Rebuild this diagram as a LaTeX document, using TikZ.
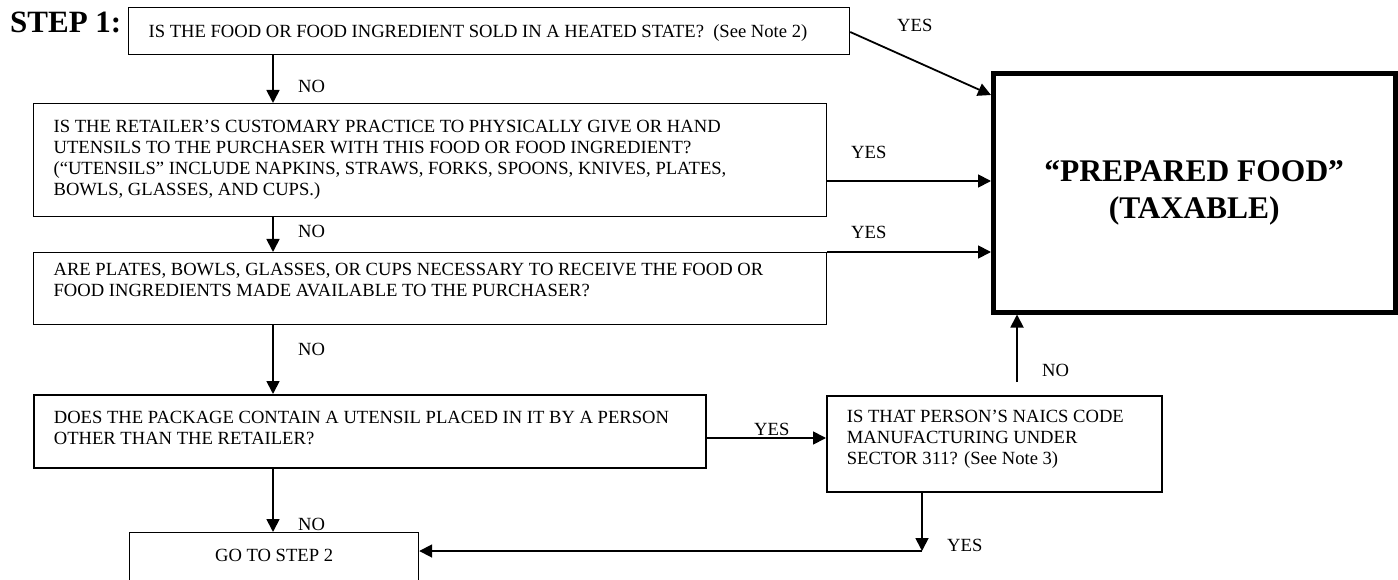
\documentclass[tikz,border=0pt]{standalone}
\usepackage{fontspec}
\setmainfont{Liberation Serif}
\usetikzlibrary{arrows.meta}
\newcommand\boxlines[2]{\parbox[t]{#1}{#2\hrule height 0pt depth 0pt width #1}}
\begin{document}
\begin{tikzpicture}[x=1pt,y=-1pt,
  qfont/.style={font=\fontsize{18.6}{21}\selectfont},
  qbox/.style={draw, line width=1.2pt, inner xsep=20pt, inner ysep=0pt, anchor=north west, qfont},
  qboxthick/.style={qbox, line width=1.7pt},
  lbl/.style={anchor=base west, inner sep=0pt, qfont},
  arr/.style={line width=1.8pt, -{Triangle[length=13pt,width=13pt]}},
  bigbox/.style={draw, line width=5pt, inner sep=0pt, align=center,
    font=\fontsize{31.5}{37}\selectfont\bfseries},
]
\useasboundingbox (0,0) rectangle (1398,580);
\clip (0,0) rectangle (1398,580);

\node[anchor=base west, inner sep=0pt, font=\fontsize{31}{37}\selectfont\bfseries] (step) at (10,33) {STEP 1:};

\node[qbox, text height=30pt, text depth=17pt] (box1) at (128,7)
  {\boxlines{681pt}{\hbox{IS THE FOOD OR FOOD INGREDIENT SOLD IN A HEATED STATE?\ \ (See Note 2)}}};

\node[qbox, text height=29pt, text depth=84pt] (box2) at (33,103)
  {\boxlines{753pt}{%
    \hbox{IS THE RETAILER’S CUSTOMARY PRACTICE TO PHYSICALLY GIVE OR HAND}%
    \hbox{UTENSILS TO THE PURCHASER WITH THIS FOOD OR FOOD INGREDIENT?}%
    \hbox{(“UTENSILS” INCLUDE NAPKINS, STRAWS, FORKS, SPOONS, KNIVES, PLATES,}%
    \hbox{BOWLS, GLASSES, AND CUPS.)}}};

\node[qbox, text height=23pt, text depth=49pt] (box3) at (33,252)
  {\boxlines{753pt}{%
    \hbox{ARE PLATES, BOWLS, GLASSES, OR CUPS NECESSARY TO RECEIVE THE FOOD OR}%
    \hbox{FOOD INGREDIENTS MADE AVAILABLE TO THE PURCHASER?}}};

\node[qboxthick, text height=29pt, text depth=44pt] (box4) at (33,394)
  {\boxlines{632pt}{%
    \hbox{DOES THE PACKAGE CONTAIN A UTENSIL PLACED IN IT BY A PERSON}%
    \hbox{OTHER THAN THE RETAILER?}}};

\node[qboxthick, text height=27pt, text depth=69pt] (naics) at (826,395)
  {\boxlines{295pt}{%
    \hbox{IS THAT PERSON’S NAICS CODE}%
    \hbox{MANUFACTURING UNDER}%
    \hbox{SECTOR 311? (See Note 3)}}};

\node[draw, line width=1.2pt, inner sep=0pt, anchor=north west, minimum width=289pt,
  text height=29pt, text depth=60pt, qfont] (step2) at (129,532) {GO TO STEP 2};

\node[bigbox, minimum width=401.5pt, minimum height=238.5pt] (big) at (1194.25,192.75)
  {“PREPARED FOOD”\\(TAXABLE)};

% connectors
\draw[arr] (box1.south -| 273,0) -- (box2.north -| 273,0);
\draw[arr] (box2.south -| 273,0) -- (box3.north -| 273,0);
\draw[arr] (box3.south -| 273,0) -- (box4.north -| 273,0);
\draw[arr] (box4.south -| 273,0) -- (step2.north -| 273,0);

\draw[arr] (box1.east |- 0,32) -- (big.west |- 0,95);
\draw[arr] (box2.east |- 0,181) -- (big.west |- 0,181);
\draw[arr] (box3.north east) -- (big.west |- box3.north east);
\draw[arr] (box4.east |- 0,438) -- (naics.west |- 0,438);

\coordinate (nostart) at (1017,382);
\draw[arr] (nostart) -- (big.south -| nostart);

\coordinate (turn) at (922,551);
\draw[arr] (naics.south -| turn) -- (turn);
\draw[arr] (turn) -- (step2.east |- turn);

% labels
\node[lbl] (l1) at (298,93) {NO};
\node[lbl] (l2) at (897,32) {YES};
\node[lbl] (l3) at (851,159) {YES};
\node[lbl] (l4) at (298,238) {NO};
\node[lbl] (l5) at (851,239) {YES};
\node[lbl] (l6) at (298,355) {NO};
\node[lbl] (l7) at (754,435) {YES};
\node[lbl] (l8) at (1042,376) {NO};
\node[lbl] (l9) at (298,530) {NO};
\node[lbl] (l10) at (947,551) {YES};
\end{tikzpicture}
\end{document}
